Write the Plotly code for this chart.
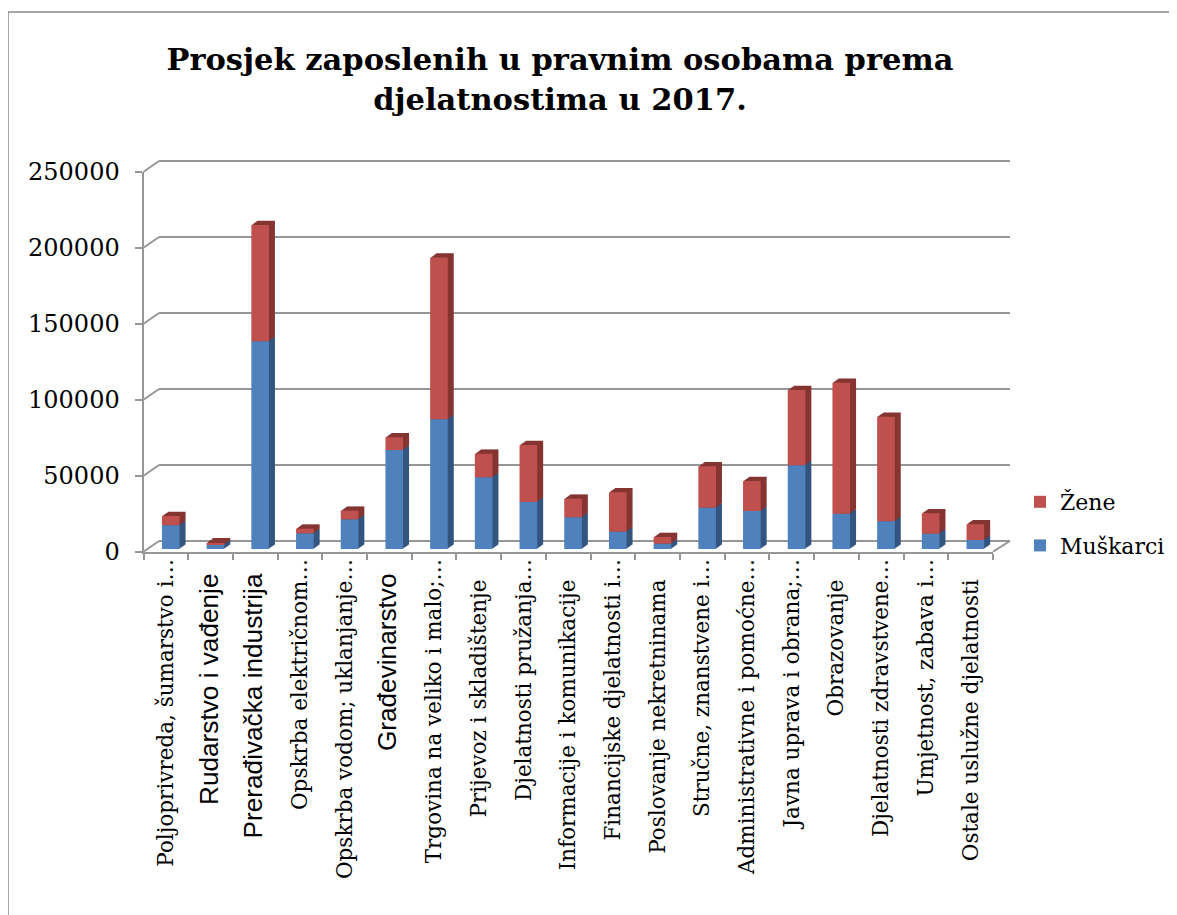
import plotly.graph_objects as go

W, H = 1177, 915

kategorije = [
    "Poljoprivreda, šumarstvo i…", "Rudarstvo i vađenje", "Prerađivačka industrija",
    "Opskrba električnom…", "Opskrba vodom; uklanjanje…", "Građevinarstvo",
    "Trgovina na veliko i malo;…", "Prijevoz i skladištenje", "Djelatnosti pružanja…",
    "Informacije i komunikacije", "Financijske djelatnosti i…", "Poslovanje nekretninama",
    "Stručne, znanstvene i…", "Administrativne i pomoćne…", "Javna uprava i obrana;…",
    "Obrazovanje", "Djelatnosti zdravstvene…", "Umjetnost, zabava i…",
    "Ostale uslužne djelatnosti",
]
muskarci = [15600, 3200, 136700, 10300, 19500, 65100, 85300, 47200, 30900, 20900,
            11400, 3500, 27200, 25000, 55100, 23200, 18200, 10100, 5900]
zene = [6100, 700, 76500, 3100, 5700, 8400, 106400, 15500, 37500, 12200,
        25900, 4400, 27200, 19700, 49500, 86200, 68800, 13400, 10400]
y_tickovi = [0, 50000, 100000, 150000, 200000, 250000]
sans_labele = {"Rudarstvo i vađenje", "Prerađivačka industrija", "Građevinarstvo"}

SERIF = "DejaVu Serif"
BLUE, RED = "#4F81BD", "#C0504D"
BLUE_DARK, RED_DARK = "#34557F", "#853532"
GRID = "#969696"

# page has an 8px body margin; geometry below is in screenshot pixels
OFF = 8
FRONT_L, FRONT_R, FRONT_0, FRONT_TOP = 143.5, 993, 551.7, 171.7
BACK_L, BACK_R, BACK_0, BACK_TOP = 159, 1010, 541, 161
BAR_L, BAR_R, BAR_0, BAR_TOP = 148.4, 997.7, 549, 169
DEPTH_X, DEPTH_Y, STEPS = 6, 4.3, 6
BAR_W = 0.394
YMAX = 250000
BACK_EXT = 1.03  # a little headroom so the top gridline is kept


def px_x(p):
    return (p - OFF) / W


def px_y(p):
    return 1 - (p - OFF) / H


n = len(kategorije)
cat_px = (BAR_R - BAR_L) / n
val_px = YMAX / (BAR_0 - BAR_TOP)

# extruded sides/tops, drawn back to front
ex_x, ex_y, ex_base, ex_off, ex_col = [], [], [], [], []
for k in range(STEPS, 0, -1):
    dx = k * DEPTH_X / STEPS / cat_px
    dy = k * DEPTH_Y / STEPS * val_px
    for c, m, z in zip(kategorije, muskarci, zene):
        ex_x += [c, c]
        ex_y += [m, z]
        ex_base += [dy, dy + m]
        ex_off += [-BAR_W / 2 + dx] * 2
        ex_col += [BLUE_DARK, RED_DARK]

fig = go.Figure()

# back wall subplot (grid)
fig.add_trace(go.Scatter(x=[0], y=[None], xaxis="x", yaxis="y", showlegend=False, hoverinfo="skip"))

fig.add_trace(go.Bar(
    x=ex_x, y=ex_y, base=ex_base, offset=ex_off, width=BAR_W,
    marker=dict(color=ex_col, line_width=0), xaxis="x2", yaxis="y2",
    showlegend=False, hoverinfo="skip",
))
fig.add_trace(go.Bar(
    x=kategorije, y=muskarci, base=[0] * n, offset=-BAR_W / 2, width=BAR_W,
    name="Muškarci", marker=dict(color=BLUE, line_width=0),
    xaxis="x2", yaxis="y2", legendgroup="m", legendrank=2,
))
fig.add_trace(go.Bar(
    x=kategorije, y=zene, base=muskarci, offset=-BAR_W / 2, width=BAR_W,
    name="Žene", marker=dict(color=RED, line_width=0),
    xaxis="x2", yaxis="y2", legendgroup="z", legendrank=1,
))

# front axes subplot (line, ticks) + free axis for the category labels
fig.add_trace(go.Scatter(x=[0], y=[None], xaxis="x3", yaxis="y3", showlegend=False, hoverinfo="skip"))
fig.add_trace(go.Scatter(x=[0], y=[None], xaxis="x4", yaxis="y3", showlegend=False, hoverinfo="skip"))

tick_text = []
for c in kategorije:
    if c in sans_labele:
        tick_text.append('<span style="font-family:Liberation Sans;font-size:26.2px">'
                         + c + "\u00a0\u00a0</span>")
    elif c.endswith("…"):
        tick_text.append(c)
    else:
        tick_text.append(c + "\u00a0\u00a0\u00a0")

shapes = [dict(type="rect", xref="paper", yref="paper",
               x0=px_x(8), x1=px_x(W + 20), y0=px_y(H + 20), y1=px_y(12),
               line=dict(color="#8A8A8A", width=1.5), layer="below")]
for v in y_tickovi:
    shapes.append(dict(type="line", xref="paper", yref="paper",
                       x0=px_x(FRONT_L), y0=px_y(FRONT_0 - v / YMAX * (FRONT_0 - FRONT_TOP)),
                       x1=px_x(BACK_L), y1=px_y(BACK_0 - v / YMAX * (BACK_0 - BACK_TOP)),
                       line=dict(color=GRID, width=2)))
shapes.append(dict(type="line", xref="paper", yref="paper",
                   x0=px_x(FRONT_R), y0=px_y(FRONT_0), x1=px_x(BACK_R), y1=px_y(BACK_0),
                   line=dict(color=GRID, width=2)))

fig.update_layout(
    width=W, height=H,
    margin=dict(l=0, r=0, t=0, b=0),
    paper_bgcolor="white", plot_bgcolor="rgba(0,0,0,0)",
    barmode="overlay",
    title=dict(text="<b>Prosjek zaposlenih u pravnim osobama prema<br>djelatnostima u 2017.</b>",
               x=px_x(560), xanchor="center", y=px_y(70), yanchor="top",
               font=dict(family=SERIF, size=30.5, color="black")),
    font=dict(family=SERIF, color="black"),
    showlegend=True,
    legend=dict(x=px_x(1020), y=px_y(481), xanchor="left", yanchor="top",
                traceorder="grouped", tracegroupgap=12,
                font=dict(family=SERIF, size=22, color="black"), bgcolor="rgba(0,0,0,0)"),
    xaxis=dict(domain=[px_x(BACK_L), px_x(BACK_R)], range=[0, 1], visible=False, fixedrange=True),
    yaxis=dict(domain=[px_y(BACK_0), px_y(BACK_0 - (BACK_0 - BACK_TOP) * BACK_EXT)],
               range=[0, YMAX * BACK_EXT], dtick=50000,
               showgrid=True, gridcolor=GRID, gridwidth=2, zeroline=True, zerolinecolor=GRID,
               zerolinewidth=2, showticklabels=False, ticks="", fixedrange=True),
    xaxis2=dict(domain=[px_x(BAR_L), px_x(BAR_R)], type="category", categoryorder="array",
                categoryarray=kategorije, range=[-0.5, n - 0.5], visible=False, fixedrange=True,
                anchor="y2"),
    yaxis2=dict(domain=[px_y(BAR_0), px_y(BAR_TOP)], range=[0, YMAX], visible=False,
                fixedrange=True, anchor="x2"),
    xaxis3=dict(domain=[px_x(FRONT_L), px_x(FRONT_R)], range=[-0.5, n - 0.5], anchor="y3",
                showticklabels=False, ticks="",
                minor=dict(tickmode="array", tickvals=[i - 0.5 for i in range(n + 1)],
                           ticks="outside", ticklen=6, tickcolor=GRID, tickwidth=2),
                showline=True, linecolor=GRID, linewidth=2, showgrid=False, zeroline=False,
                automargin=False, fixedrange=True),
    xaxis4=dict(domain=[px_x(FRONT_L), px_x(FRONT_R)], range=[-0.5, n - 0.5],
                anchor="free", position=px_y(FRONT_0 + 2), side="bottom",
                tickmode="array", tickvals=list(range(n)), ticktext=tick_text, tickangle=-90,
                tickfont=dict(family=SERIF, size=21.5, color="black"), ticks="",
                showline=False, showgrid=False, zeroline=False,
                automargin=False, fixedrange=True),
    yaxis3=dict(domain=[px_y(FRONT_0), px_y(FRONT_TOP)], range=[0, YMAX], anchor="x3",
                tickmode="array", tickvals=y_tickovi, ticktext=[str(v) for v in y_tickovi],
                tickfont=dict(family=SERIF, size=24, color="black"),
                ticks="outside", ticklen=7, tickcolor=GRID, tickwidth=2, ticklabelstandoff=10,
                showline=True, linecolor=GRID, linewidth=2, showgrid=False, zeroline=False,
                automargin=False, fixedrange=True),
    shapes=shapes,
    hovermode=False,
)

fig.write_html("out.html")
